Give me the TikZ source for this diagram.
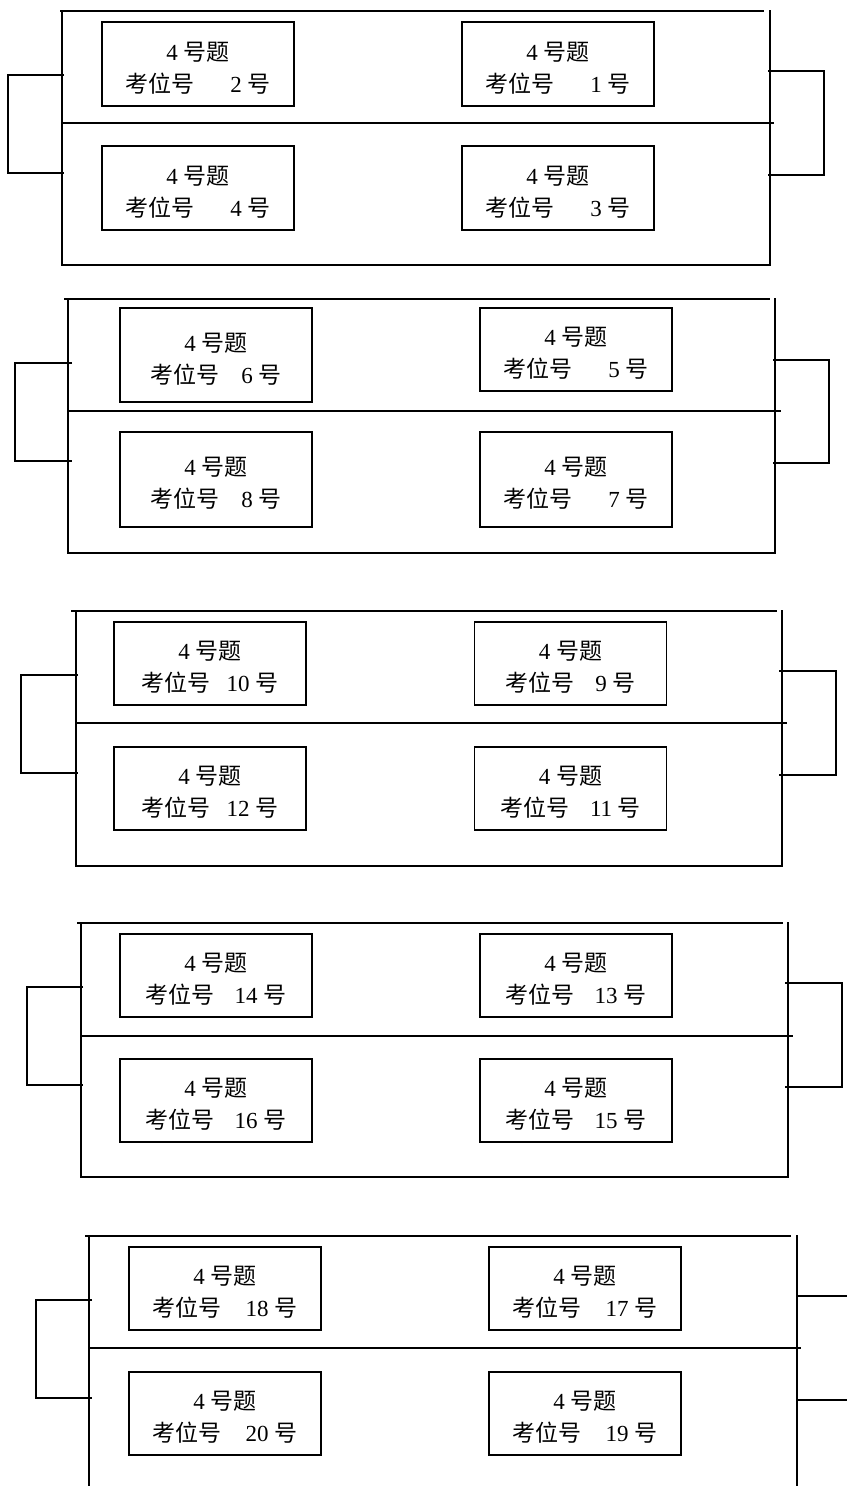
\documentclass[tikz,border=0pt]{standalone}
\usepackage{fontspec}
\setmainfont{Liberation Serif}
\newfontfamily\cjk{Noto Sans CJK SC}
\usetikzlibrary{positioning}

\newcommand{\seatlabel}[2]{\rule{0pt}{13pt}4 {\cjk 号题}\\{\cjk 考位号}\hspace{#2}#1 {\cjk 号}}

\tikzset{
  frame/.style={line width=0.8pt},
  seat/.style={draw, line width=0.9pt, minimum width=96pt, minimum height=41.5pt,
    inner sep=0pt, align=center, font=\fontsize{11.5pt}{16pt}\selectfont}
}

\begin{document}
\begin{tikzpicture}[x=0.5pt,y=-0.5pt]
  \useasboundingbox (0,0) rectangle (847,1486);

  % Block 1
  \draw[frame] (60,11) -- (764,11);
  \draw[frame] (62,11) -- (62,265) -- (770,265) -- (770,10);
  \draw[frame] (62,123) -- (774,123);
  \node[seat, minimum height=42pt] (s2) at (198,64) {\seatlabel{2}{18pt}};
  \node[seat, minimum height=42pt] (s4) at (198,188) {\seatlabel{4}{18pt}};
  \node[seat, minimum height=42pt] (s1) at (558,64) {\seatlabel{1}{18pt}};
  \node[seat, minimum height=42pt] (s3) at (558,188) {\seatlabel{3}{18pt}};
  \coordinate (L1a) at (64,75);  \coordinate (L1b) at (64,173);
  \coordinate (R1a) at (768,71); \coordinate (R1b) at (768,175);
  \draw[frame] (L1a) -- ++(-56,0) |- (L1b);
  \draw[frame] (R1a) -- ++(56,0) |- (R1b);

  % Block 2
  \draw[frame] (64,299) -- (770,299);
  \draw[frame] (68,299) -- (68,553) -- (775,553) -- (775,298);
  \draw[frame] (68,411) -- (781,411);
  \node[seat, minimum height=47pt] (s6) at (216,355) {\seatlabel{6}{11pt}};
  \node[seat, minimum height=47.5pt] (s8) at (216,479.5) {\seatlabel{8}{11pt}};
  \node[seat] (s5) at (576,349.5) {\seatlabel{5}{18pt}};
  \node[seat, minimum height=47.5pt] (s7) at (576,479.5) {\seatlabel{7}{18pt}};
  \coordinate (L2a) at (72,363);  \coordinate (L2b) at (72,461);
  \coordinate (R2a) at (773,360); \coordinate (R2b) at (773,463);
  \draw[frame] (L2a) -- ++(-57,0) |- (L2b);
  \draw[frame] (R2a) -- ++(56,0) |- (R2b);

  % Block 3
  \draw[frame] (71,611) -- (777,611);
  \draw[frame] (76,611) -- (76,866) -- (782,866) -- (782,610);
  \draw[frame] (76,723) -- (787,723);
  \node[seat] (s10) at (210,663.5) {\seatlabel{10}{8pt}};
  \node[seat] (s12) at (210,788.5) {\seatlabel{12}{8pt}};
  \node[seat] (s9) at (570.5,663.5) {\seatlabel{9}{10.5pt}};
  \node[seat] (s11) at (570.5,788.5) {\seatlabel{11}{10.5pt}};
  \coordinate (L3a) at (78,675);  \coordinate (L3b) at (78,773);
  \coordinate (R3a) at (779,671); \coordinate (R3b) at (779,775);
  \draw[frame] (L3a) -- ++(-57,0) |- (L3b);
  \draw[frame] (R3a) -- ++(57,0) |- (R3b);

  % Block 4
  \draw[frame] (77,923) -- (783,923);
  \draw[frame] (81,923) -- (81,1177) -- (788,1177) -- (788,922);
  \draw[frame] (81,1036) -- (793,1036);
  \node[seat] (s14) at (216,975.5) {\seatlabel{14}{10pt}};
  \node[seat] (s16) at (216,1100.5) {\seatlabel{16}{10pt}};
  \node[seat] (s13) at (576,975.5) {\seatlabel{13}{10pt}};
  \node[seat] (s15) at (576,1100.5) {\seatlabel{15}{10pt}};
  \coordinate (L4a) at (83,987);  \coordinate (L4b) at (83,1085);
  \coordinate (R4a) at (785,983); \coordinate (R4b) at (785,1087);
  \draw[frame] (L4a) -- ++(-56,0) |- (L4b);
  \draw[frame] (R4a) -- ++(57,0) |- (R4b);

  % Block 5
  \draw[frame] (85,1236) -- (791,1236);
  \draw[frame] (89,1236) -- (89,1486);
  \draw[frame] (797,1235) -- (797,1486);
  \draw[frame] (89,1348) -- (801,1348);
  \node[seat] (s18) at (225,1288.5) {\seatlabel{18}{12pt}};
  \node[seat] (s20) at (225,1413.5) {\seatlabel{20}{12pt}};
  \node[seat] (s17) at (585,1288.5) {\seatlabel{17}{12pt}};
  \node[seat] (s19) at (585,1413.5) {\seatlabel{19}{12pt}};
  \coordinate (L5a) at (92,1300);  \coordinate (L5b) at (92,1398);
  \coordinate (R5a) at (797,1296); \coordinate (R5b) at (797,1400);
  \draw[frame] (L5a) -- ++(-56,0) |- (L5b);
  \draw[frame] (R5a) -- ++(50,0);
  \draw[frame] (R5b) -- ++(50,0);
\end{tikzpicture}
\end{document}
